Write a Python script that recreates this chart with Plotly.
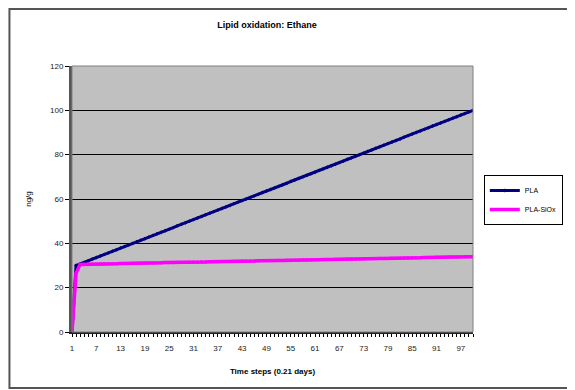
import plotly.graph_objects as go

time_steps = list(range(1, 101))

pla = [0.0, 30.0, 30.7, 31.4, 32.1, 32.9, 33.6, 34.3, 35.0, 35.7,
       36.4, 37.1, 37.9, 38.6, 39.3, 40.0, 40.7, 41.4, 42.1, 42.9,
       43.6, 44.3, 45.0, 45.7, 46.4, 47.1, 47.9, 48.6, 49.3, 50.0,
       50.7, 51.4, 52.1, 52.9, 53.6, 54.3, 55.0, 55.7, 56.4, 57.1,
       57.9, 58.6, 59.3, 60.0, 60.7, 61.4, 62.1, 62.9, 63.6, 64.3,
       65.0, 65.7, 66.4, 67.1, 67.9, 68.6, 69.3, 70.0, 70.7, 71.4,
       72.1, 72.9, 73.6, 74.3, 75.0, 75.7, 76.4, 77.1, 77.9, 78.6,
       79.3, 80.0, 80.7, 81.4, 82.1, 82.9, 83.6, 84.3, 85.0, 85.7,
       86.4, 87.1, 87.9, 88.6, 89.3, 90.0, 90.7, 91.4, 92.1, 92.9,
       93.6, 94.3, 95.0, 95.7, 96.4, 97.1, 97.9, 98.6, 99.3, 100.0]

pla_siox = [0.0, 26.5, 30.5, 30.5, 30.6, 30.6, 30.6, 30.7, 30.7, 30.8,
            30.8, 30.8, 30.9, 30.9, 30.9, 31.0, 31.0, 31.0, 31.1, 31.1,
            31.1, 31.2, 31.2, 31.3, 31.3, 31.3, 31.4, 31.4, 31.4, 31.5,
            31.5, 31.5, 31.6, 31.6, 31.7, 31.7, 31.7, 31.8, 31.8, 31.8,
            31.9, 31.9, 32.0, 32.0, 32.0, 32.0, 32.1, 32.2, 32.2, 32.2,
            32.2, 32.3, 32.3, 32.4, 32.4, 32.4, 32.4, 32.5, 32.5, 32.6,
            32.6, 32.6, 32.7, 32.7, 32.7, 32.8, 32.8, 32.8, 32.9, 32.9,
            32.9, 33.0, 33.0, 33.1, 33.1, 33.1, 33.2, 33.2, 33.2, 33.3,
            33.3, 33.3, 33.4, 33.4, 33.5, 33.5, 33.5, 33.6, 33.6, 33.6,
            33.7, 33.7, 33.7, 33.8, 33.8, 33.8, 33.9, 33.9, 34.0, 34.0]

y_ticks = [0, 20, 40, 60, 80, 100, 120]
x_tick_start = 1
x_tick_step = 6

FONT = "Liberation Sans, Arial, sans-serif"

fig = go.Figure()
fig.add_trace(go.Scatter(
    x=time_steps, y=pla, name="PLA", mode="lines+markers",
    line=dict(color="#000080", width=3),
    marker=dict(symbol="diamond", size=3, color="#000080"),
))
fig.add_trace(go.Scatter(
    x=time_steps, y=pla_siox, name="PLA-SiOx", mode="lines+markers",
    line=dict(color="#FF00FF", width=3.5),
    marker=dict(symbol="square", size=3, color="#FF00FF"),
))

fig.update_layout(
    width=567, height=382,
    margin=dict(l=64, r=99, t=58, b=58),
    paper_bgcolor="white",
    plot_bgcolor="#c0c0c0",
    font=dict(family=FONT, size=8, color="black"),
    title=dict(text="<b>Lipid oxidation: Ethane</b>", xref="container", x=0.457, xanchor="center",
               y=1 - 17 / 382, yanchor="middle",
               font=dict(family=FONT, size=9, color="black")),
    showlegend=True,
    legend=dict(x=1.027, y=0.59, xanchor="left", yanchor="top",
                bgcolor="white", bordercolor="black", borderwidth=1,
                font=dict(family=FONT, size=7, color="black"),
                itemwidth=30, tracegroupgap=0),
    xaxis=dict(
        range=[1, 100], tickmode="linear", tick0=x_tick_start, dtick=x_tick_step,
        showgrid=False, zeroline=False,
        showline=True, linecolor="#222222", linewidth=2,
        ticks="outside", ticklen=3, tickcolor="black",
        ticklabelstandoff=4,
        minor=dict(tick0=1, dtick=1, ticks="outside", ticklen=3, tickcolor="black", showgrid=False),
        tickfont=dict(family=FONT, size=8, color="#222222"),
        title=dict(text="<b>Time steps (0.21 days)</b>", standoff=17,
                   font=dict(family=FONT, size=8, color="black")),
    ),
    yaxis=dict(
        range=[0, 120], tickvals=y_ticks,
        showgrid=True, gridcolor="#000000", gridwidth=1,
        zeroline=False,
        showline=True, linecolor="#555555", linewidth=3,
        ticks="outside", ticklen=4, tickcolor="black",
        tickfont=dict(family=FONT, size=8, color="#222222"),
        title=dict(text="ng/g", standoff=18,
                   font=dict(family=FONT, size=8, color="black")),
    ),
)

# plot area border
fig.add_shape(type="rect", xref="paper", yref="paper", x0=0, x1=1, y0=0, y1=1,
              line=dict(color="#808080", width=1), layer="above")
# outer chart frame
fig.add_shape(type="rect", xref="paper", yref="paper",
              x0=-0.156, x1=1.3, y0=-0.2105, y1=1.214,
              line=dict(color="#555555", width=2))

fig.write_html("out.html")
